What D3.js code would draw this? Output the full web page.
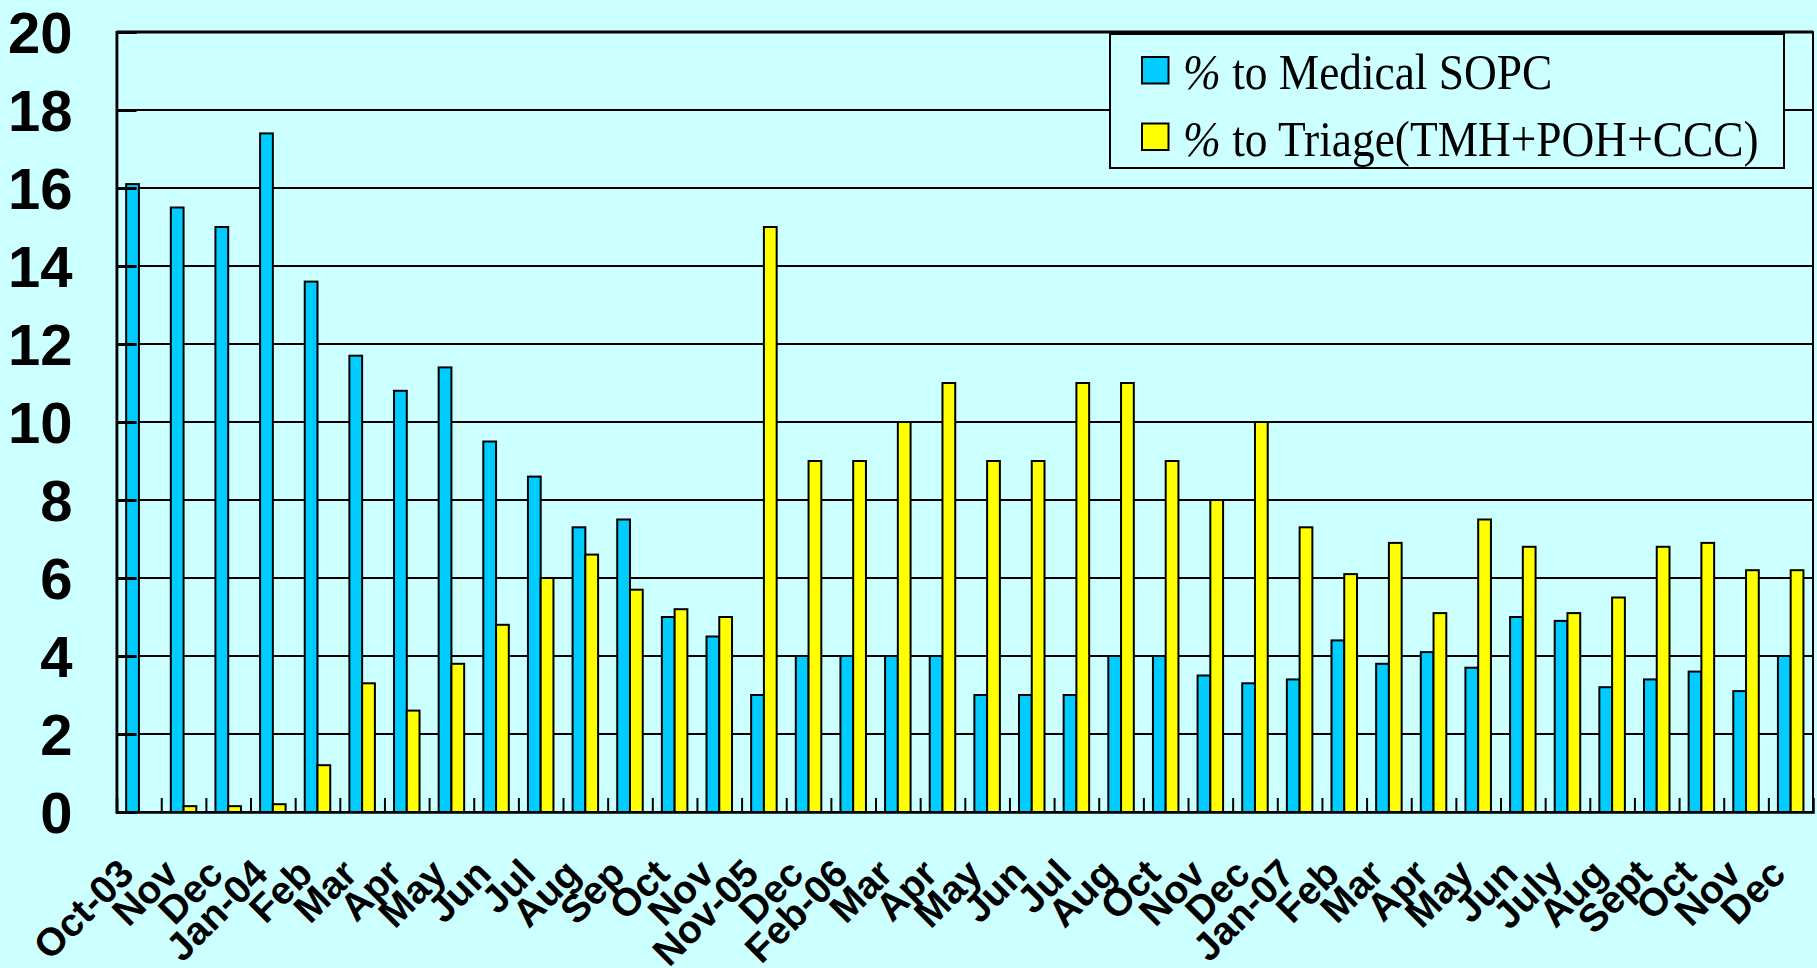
<!DOCTYPE html>
<html>
<head>
<meta charset="utf-8">
<script src="https://cdn.jsdelivr.net/npm/d3@7"></script>
<style>
  html, body { margin: 0; padding: 0; background: #CCFFFF; overflow: hidden; }
  svg { display: block; }
</style>
</head>
<body>
<svg id="chart" width="1817" height="968"></svg>
<script>
// Monthly referral shares, Oct 2003 – Dec 2007
const categories = [
  "Oct-03", "Nov", "Dec", "Jan-04", "Feb", "Mar", "Apr", "May", "Jun", "Jul",
  "Aug", "Sep", "Oct", "Nov", "Nov-05", "Dec", "Feb-06", "Mar", "Apr", "May",
  "Jun", "Jul", "Aug", "Oct", "Nov", "Dec", "Jan-07", "Feb", "Mar", "Apr",
  "May", "Jun", "July", "Aug", "Sept", "Oct", "Nov", "Dec"
];

const medicalSOPC = [
  16.1, 15.5, 15.0, 17.4, 13.6, 11.7, 10.8, 11.4, 9.5, 8.6,
  7.3, 7.5, 5.0, 4.5, 3.0, 4.0, 4.0, 4.0, 4.0, 3.0,
  3.0, 3.0, 4.0, 4.0, 3.5, 3.3, 3.4, 4.4, 3.8, 4.1,
  3.7, 5.0, 4.9, 3.2, 3.4, 3.6, 3.1, 4.0
];

const triage = [
  null, 0.15, 0.15, 0.2, 1.2, 3.3, 2.6, 3.8, 4.8, 6.0,
  6.6, 5.7, 5.2, 5.0, 15.0, 9.0, 9.0, 10.0, 11.0, 9.0,
  9.0, 11.0, 11.0, 9.0, 8.0, 10.0, 7.3, 6.1, 6.9, 5.1,
  7.5, 6.8, 5.1, 5.5, 6.8, 6.9, 6.2, 6.2
];

const seriesNames = ["% to Medical SOPC", "% to Triage(TMH+POH+CCC)"];
const seriesColors = ["#00CCFF", "#FFFF00"];
const yTicks = [0, 2, 4, 6, 8, 10, 12, 14, 16, 18, 20];

const svg = d3.select("#chart");
const plot = { left: 116.6, right: 1813, top: 32, bottom: 812 };

const x = d3.scaleBand()
  .domain(d3.range(categories.length))
  .range([plot.left, plot.right])
  .padding(0);

const xInner = d3.scaleBand()
  .domain([0, 1])
  .range([0, x.bandwidth()])
  .paddingInner(0)
  .paddingOuter(0.75);

const y = d3.scaleLinear().domain([0, 20]).range([plot.bottom, plot.top]);

// horizontal gridlines
svg.append("g")
  .selectAll("line")
  .data(yTicks.filter(v => v > 0))
  .join("line")
  .attr("x1", plot.left).attr("x2", plot.right)
  .attr("y1", d => y(d)).attr("y2", d => y(d))
  .attr("stroke", "#000").attr("stroke-width", 2);

// bars
const rows = categories.map((c, i) => ({ i, values: [medicalSOPC[i], triage[i]] }));
const groups = svg.append("g")
  .selectAll("g")
  .data(rows)
  .join("g")
  .attr("transform", d => `translate(${x(d.i)},0)`);

groups.selectAll("rect")
  .data(d => d.values.map((v, k) => ({ v, k })).filter(e => e.v !== null))
  .join("rect")
  .attr("x", e => xInner(e.k))
  .attr("width", xInner.bandwidth())
  .attr("y", e => y(e.v))
  .attr("height", e => y(0) - y(e.v))
  .attr("fill", e => seriesColors[e.k])
  .attr("stroke", "#000")
  .attr("stroke-width", 2);

// plot frame
svg.append("rect")
  .attr("x", plot.left).attr("y", plot.top)
  .attr("width", plot.right - plot.left).attr("height", plot.bottom - plot.top)
  .attr("fill", "none").attr("stroke", "#000").attr("stroke-width", 2);
svg.append("line")
  .attr("x1", plot.left).attr("x2", plot.right)
  .attr("y1", plot.top).attr("y2", plot.top)
  .attr("stroke", "#000").attr("stroke-width", 3);

// y axis
const yAxis = svg.append("g")
  .attr("transform", `translate(${plot.left},0)`)
  .call(d3.axisLeft(y).tickValues(yTicks).tickSize(-20).tickPadding(44).tickFormat(d3.format("d")));
yAxis.select(".domain").attr("stroke", "#000").attr("stroke-width", 2.5);
yAxis.selectAll(".tick line").attr("stroke", "#000").attr("stroke-width", 3);
yAxis.selectAll(".tick text")
  .attr("font-family", "'Liberation Sans', Arial, sans-serif")
  .attr("font-weight", "bold")
  .attr("font-size", 58)
  .attr("fill", "#000")
  .attr("dy", "0.36em");

// x axis: boundary ticks pointing inward
const xEdge = d3.scaleLinear().domain([0, categories.length]).range([plot.left, plot.right]);
const xTicksAxis = svg.append("g")
  .attr("transform", `translate(0,${plot.bottom})`)
  .call(d3.axisBottom(xEdge).tickValues(d3.range(1, categories.length)).tickSize(-14).tickFormat(""));
xTicksAxis.select(".domain").attr("stroke", "#000").attr("stroke-width", 2.5);
xTicksAxis.selectAll(".tick line").attr("stroke", "#000").attr("stroke-width", 2);

// x axis: rotated month labels
const xLabels = svg.append("g")
  .attr("transform", `translate(0,${plot.bottom})`)
  .call(d3.axisBottom(x).tickSize(0).tickFormat(i => categories[i]));
xLabels.select(".domain").remove();
xLabels.selectAll(".tick text")
  .attr("font-family", "'Liberation Sans', Arial, sans-serif")
  .attr("font-weight", "bold")
  .attr("font-size", 39)
  .attr("fill", "#000")
  .attr("text-anchor", "end")
  .attr("x", 0).attr("y", 0).attr("dy", null)
  .attr("transform", "translate(-3,64) rotate(-45)");

// legend
const legend = svg.append("g").attr("transform", "translate(1110,34)");
legend.append("rect")
  .attr("width", 674).attr("height", 134)
  .attr("fill", "#CCFFFF").attr("stroke", "#000").attr("stroke-width", 2);
const items = legend.selectAll("g.item")
  .data(seriesNames)
  .join("g")
  .attr("class", "item")
  .attr("transform", (d, k) => `translate(32,${23 + k * 66.5})`);
items.append("rect")
  .attr("width", 26.5).attr("height", 26.5)
  .attr("fill", (d, k) => seriesColors[k])
  .attr("stroke", "#000").attr("stroke-width", 2);
const lt = items.append("text")
  .attr("transform", "translate(41,32) scale(0.89,1)")
  .attr("font-family", "'Liberation Serif', 'Times New Roman', serif")
  .attr("font-size", 51)
  .attr("fill", "#000");
lt.append("tspan").attr("font-style", "italic").text(d => d.slice(0, 1));
lt.append("tspan").text(d => d.slice(1));
</script>
</body>
</html>
